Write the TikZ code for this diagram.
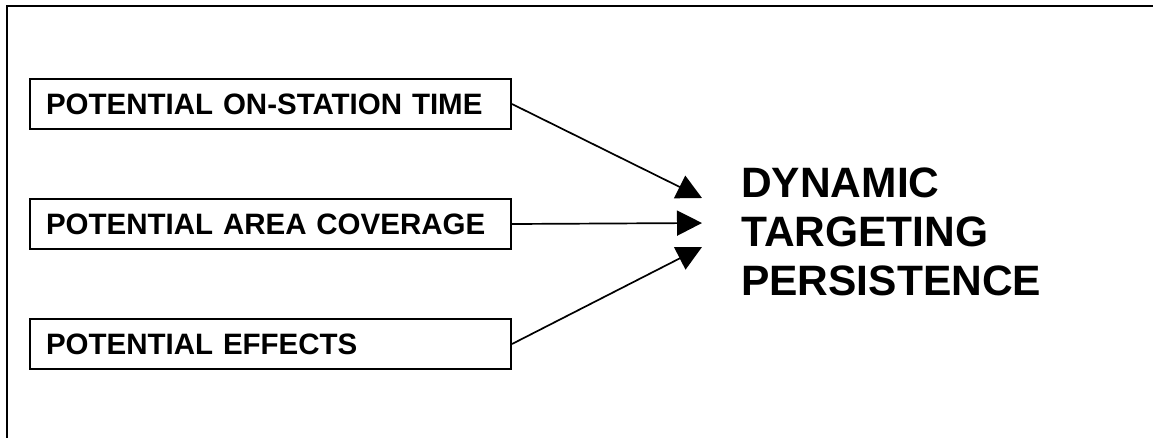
\documentclass[tikz,border=0pt]{standalone}
\usepackage{fontspec}
\setmainfont{Liberation Sans}
\usetikzlibrary{arrows.meta}
\tikzset{
  factor/.style={draw, line width=2pt, anchor=north west, minimum height=50pt,
    text width=449pt, inner xsep=16pt, inner ysep=0pt, align=left,
    text height=21.2pt, text depth=0pt, font=\fontsize{29.5}{35}\selectfont\bfseries},
  feed/.style={line width=1.7pt, -{Triangle[length=25pt,width=25pt]}}
}
\begin{document}
\begin{tikzpicture}[x=1pt,y=-1pt]
    \useasboundingbox (0,0) rectangle (1153,437);
    \draw[line width=2pt] (6.5,445) -- (6.5,6) -- (1160,6);
    \node[factor] (time) at (29,78) {POTENTIAL ON-STATION TIME};
    \node[factor] (area) at (29,198) {POTENTIAL AREA COVERAGE};
    \node[factor] (effects) at (29,318) {POTENTIAL EFFECTS};
    \node[anchor=north west, inner sep=0pt, align=left,
      font=\fontsize{42.5}{49}\selectfont\bfseries] (dtp) at (741,168)
      {DYNAMIC\\TARGETING\\PERSISTENCE};
    \coordinate (tipT) at (702,198);
    \coordinate (tipA) at (702,223);
    \coordinate (tipE) at (702,247);
    \draw[feed] (time.east) -- (tipT);
    \draw[feed] (area.east) -- (tipA);
    \draw[feed] (effects.east) -- (tipE);
\end{tikzpicture}
\end{document}
